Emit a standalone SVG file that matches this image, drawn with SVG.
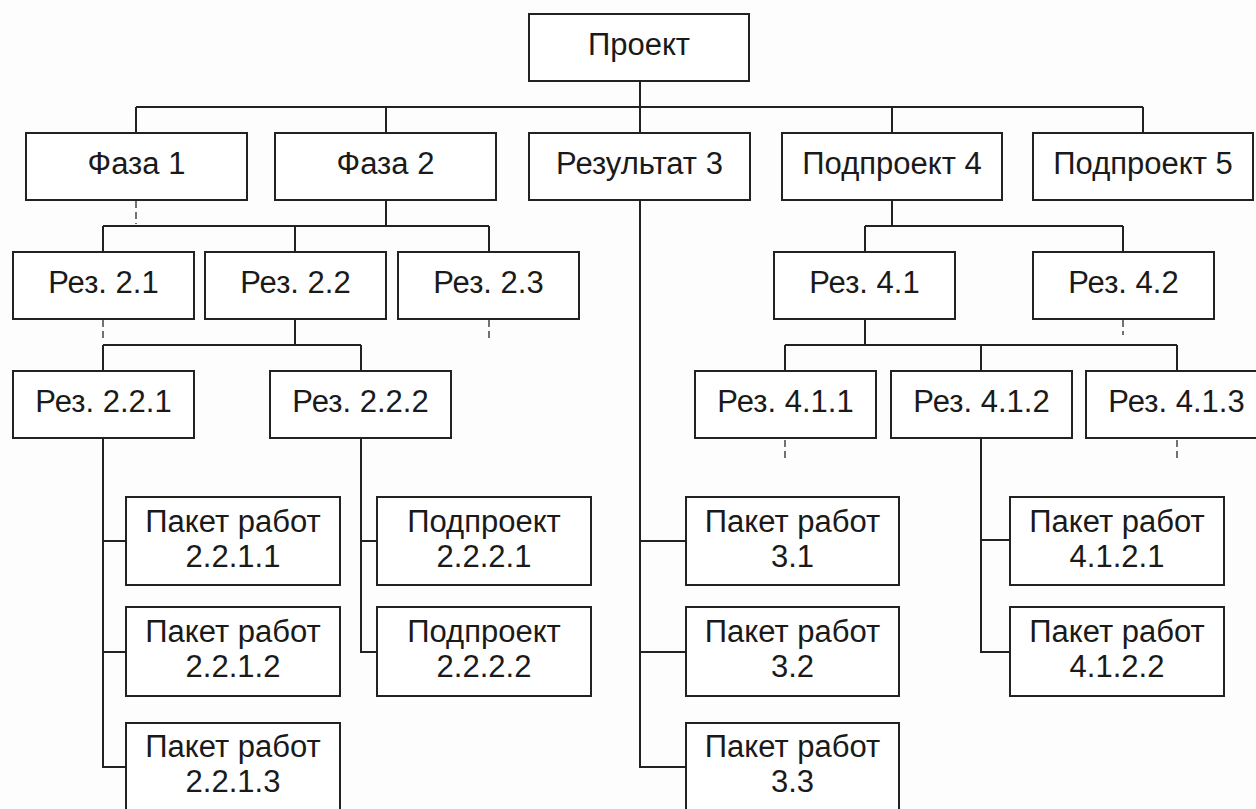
<svg xmlns="http://www.w3.org/2000/svg" width="1256" height="809" viewBox="0 0 1256 809">
  <style>
    .box { fill: #ffffff; stroke: #222222; stroke-width: 2; }
    .lbl { font-family: "Liberation Sans", Arial, sans-serif; font-size: 31px; fill: #1a1a1a; text-anchor: middle; }
    .wire { fill: none; stroke: #222222; stroke-width: 2; }
    .stub { fill: none; stroke: #444444; stroke-width: 1.5; stroke-dasharray: 7 4; }
  </style>
  <rect width="1256" height="809" fill="#fdfdfd"/>

  <!-- tree connectors -->
  <g id="connectors">
    <path class="wire" d="M640 81V107M136 107H1143M136 107V133M386 107V133M892 107V133M1143 107V133M640 107V133"/>
    <!-- Фаза 2 -->
    <path class="wire" d="M386 200V226M103 226H489M103 226V252M295 226V252M489 226V252"/>
    <!-- Рез. 2.2 -->
    <path class="wire" d="M295 319V345M103 345H361M103 345V371M361 345V371"/>
    <!-- Рез. 2.2.1 -->
    <path class="wire" d="M103 438V767H126M103 541H126M103 652H126"/>
    <!-- Рез. 2.2.2 -->
    <path class="wire" d="M361 438V652H377M361 541H377"/>
    <!-- Результат 3 -->
    <path class="wire" d="M640 200V767H686M640 541H686M640 652H686"/>
    <!-- Подпроект 4 -->
    <path class="wire" d="M892 200V226M865 226H1123M865 226V252M1123 226V252"/>
    <!-- Рез. 4.1 -->
    <path class="wire" d="M865 319V345M785 345H1177M785 345V371M981 345V371M1177 345V371"/>
    <!-- Рез. 4.1.2 -->
    <path class="wire" d="M981 438V652H1010M981 540H1010"/>
    <!-- collapsed branches -->
    <path class="stub" d="M136 201V224M103 320V342M489 320V340M1123 320V335M785 440V460M1177 440V460"/>
  </g>

  <g id="n-project"><rect class="box" x="529" y="14" width="220" height="67"/><text class="lbl" x="639" y="55">Проект</text></g>

  <g id="n-phase1"><rect class="box" x="26" y="133" width="221" height="67"/><text class="lbl" x="136.5" y="174">Фаза 1</text></g>
  <g id="n-phase2"><rect class="box" x="275" y="133" width="221" height="67"/><text class="lbl" x="385.5" y="174">Фаза 2</text></g>
  <g id="n-result3"><rect class="box" x="529" y="133" width="221" height="67"/><text class="lbl" x="639.5" y="174">Результат 3</text></g>
  <g id="n-sub4"><rect class="box" x="782" y="133" width="220" height="67"/><text class="lbl" x="892" y="174">Подпроект 4</text></g>
  <g id="n-sub5"><rect class="box" x="1033" y="133" width="220" height="67"/><text class="lbl" x="1143" y="174">Подпроект 5</text></g>

  <g id="n-r21"><rect class="box" x="13" y="252" width="181" height="67"/><text class="lbl" x="103.5" y="293">Рез. 2.1</text></g>
  <g id="n-r22"><rect class="box" x="205" y="252" width="181" height="67"/><text class="lbl" x="295.5" y="293">Рез. 2.2</text></g>
  <g id="n-r23"><rect class="box" x="398" y="252" width="181" height="67"/><text class="lbl" x="488.5" y="293">Рез. 2.3</text></g>
  <g id="n-r41"><rect class="box" x="774" y="252" width="181" height="67"/><text class="lbl" x="864.5" y="293">Рез. 4.1</text></g>
  <g id="n-r42"><rect class="box" x="1033" y="252" width="181" height="67"/><text class="lbl" x="1123.5" y="293">Рез. 4.2</text></g>

  <g id="n-r221"><rect class="box" x="13" y="371" width="181" height="67"/><text class="lbl" x="103.5" y="412">Рез. 2.2.1</text></g>
  <g id="n-r222"><rect class="box" x="270" y="371" width="181" height="67"/><text class="lbl" x="360.5" y="412">Рез. 2.2.2</text></g>
  <g id="n-r411"><rect class="box" x="695" y="371" width="181" height="67"/><text class="lbl" x="785.5" y="412">Рез. 4.1.1</text></g>
  <g id="n-r412"><rect class="box" x="891" y="371" width="181" height="67"/><text class="lbl" x="981.5" y="412">Рез. 4.1.2</text></g>
  <g id="n-r413"><rect class="box" x="1086" y="371" width="181" height="67"/><text class="lbl" x="1176.5" y="412">Рез. 4.1.3</text></g>

  <g id="n-wp2211"><rect class="box" x="126" y="497" width="214" height="88"/><text class="lbl" x="233" y="532">Пакет работ</text><text class="lbl" x="233" y="567">2.2.1.1</text></g>
  <g id="n-wp2212"><rect class="box" x="126" y="607" width="214" height="89"/><text class="lbl" x="233" y="642">Пакет работ</text><text class="lbl" x="233" y="677">2.2.1.2</text></g>
  <g id="n-wp2213"><rect class="box" x="126" y="723" width="214" height="89"/><text class="lbl" x="233" y="757">Пакет работ</text><text class="lbl" x="233" y="792">2.2.1.3</text></g>

  <g id="n-sp2221"><rect class="box" x="377" y="497" width="214" height="88"/><text class="lbl" x="484" y="532">Подпроект</text><text class="lbl" x="484" y="567">2.2.2.1</text></g>
  <g id="n-sp2222"><rect class="box" x="377" y="607" width="214" height="89"/><text class="lbl" x="484" y="642">Подпроект</text><text class="lbl" x="484" y="677">2.2.2.2</text></g>

  <g id="n-wp31"><rect class="box" x="686" y="497" width="213" height="88"/><text class="lbl" x="792.5" y="532">Пакет работ</text><text class="lbl" x="792.5" y="567">3.1</text></g>
  <g id="n-wp32"><rect class="box" x="686" y="607" width="213" height="89"/><text class="lbl" x="792.5" y="642">Пакет работ</text><text class="lbl" x="792.5" y="677">3.2</text></g>
  <g id="n-wp33"><rect class="box" x="686" y="723" width="213" height="89"/><text class="lbl" x="792.5" y="757">Пакет работ</text><text class="lbl" x="792.5" y="792">3.3</text></g>

  <g id="n-wp4121"><rect class="box" x="1010" y="497" width="214" height="88"/><text class="lbl" x="1117" y="532">Пакет работ</text><text class="lbl" x="1117" y="567">4.1.2.1</text></g>
  <g id="n-wp4122"><rect class="box" x="1010" y="607" width="214" height="89"/><text class="lbl" x="1117" y="642">Пакет работ</text><text class="lbl" x="1117" y="677">4.1.2.2</text></g>
</svg>
